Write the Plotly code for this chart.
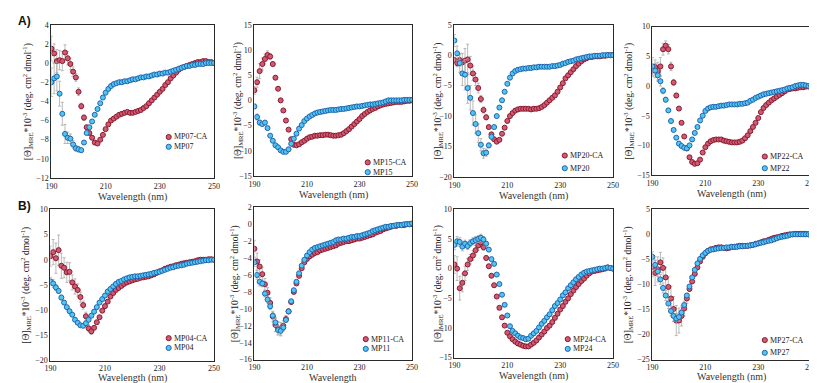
import plotly.graph_objects as go

W, H = 817, 383
wavelength = list(range(190, 251))
x_ticks = [190, 210, 230, 250]

# ---------------- data (MRE ellipticity x10^-3), 190..250 nm, 1 nm steps ----------------
mp07_ca = [1.5, 1.0, 0.2, 0.3, 0.2, 1.1, 0.5, -0.1, -0.9, -1.5, -3.0, -4.5, -5.7, -6.7, -7.3, -7.8, -8.3, -8.4, -8.0, -7.5,
           -6.9, -6.4, -6.0, -5.8, -5.6, -5.4, -5.3, -5.2, -5.1, -5.2, -5.2, -5.1, -5.0, -4.9, -4.7, -4.5, -4.2, -3.9, -3.6, -3.3,
           -3.0, -2.7, -2.3, -2.0, -1.6, -1.3, -1.0, -0.7, -0.5, -0.4, -0.3, -0.2, -0.1, 0.0, 0.1, 0.1, 0.2, 0.2, 0.1, 0.1, 0.0]
mp07 = [-2.0, -1.6, -1.4, -3.2, -5.3, -7.4, -7.8, -7.9, -8.5, -8.9, -9.0, -9.1, -8.3, -7.3, -6.7, -6.1, -5.4, -4.8, -4.2, -3.6,
        -3.1, -2.7, -2.4, -2.2, -2.1, -2.0, -2.0, -1.9, -1.9, -1.8, -1.7, -1.7, -1.6, -1.5, -1.5, -1.4, -1.4, -1.3, -1.2, -1.2,
        -1.1, -1.1, -1.0, -1.0, -0.9, -0.8, -0.7, -0.6, -0.5, -0.4, -0.3, -0.3, -0.2, -0.2, -0.1, -0.1, -0.1, 0.0, 0.0, 0.0, 0.0]
mp07_ca_err = [1.3, 1.0, 1.2, 1.0, 1.0, 0.8, 0.7, 0.6, 0.5, 0.4, 0.4, 0.3, 0.3, 0.2]
mp07_err = [1.5, 1.6, 1.5, 1.3, 1.2, 1.0, 0.6, 0.5, 0.4, 0.3, 0.3, 0.2]

mp15_ca = [2.0, 3.6, 5.8, 7.2, 8.2, 9.0, 8.7, 7.2, 4.5, 2.3, 0.0, -2.0, -4.0, -5.8, -7.7, -8.8, -8.9, -8.7, -8.3, -8.0,
           -7.6, -7.3, -7.2, -7.0, -7.0, -6.9, -6.9, -6.8, -6.8, -6.9, -7.0, -7.0, -6.9, -6.8, -6.5, -6.1, -5.7, -5.2, -4.7, -4.2,
           -3.7, -3.1, -2.7, -2.3, -2.0, -1.7, -1.5, -1.2, -1.0, -0.8, -0.7, -0.6, -0.5, -0.4, -0.3, -0.3, -0.3, -0.2, -0.1, -0.1, 0.0]
mp15 = [-1.2, -3.3, -4.4, -4.7, -4.4, -5.5, -7.0, -8.0, -8.9, -9.3, -9.9, -10.2, -10.2, -9.7, -8.6, -7.6, -6.6, -5.6, -4.9, -4.1,
        -3.6, -3.2, -2.9, -2.6, -2.4, -2.3, -2.2, -2.1, -2.0, -1.9, -1.9, -1.9, -1.8, -1.7, -1.7, -1.6, -1.5, -1.4, -1.3, -1.2,
        -1.2, -1.1, -1.0, -0.9, -0.8, -0.8, -0.7, -0.6, -0.5, -0.4, -0.2, 0.0, 0.0, 0.0, 0.0, 0.0, 0.0, 0.1, 0.1, 0.1, 0.1]
mp15_ca_err = [0.8, 1.0, 1.5, 1.2, 1.0, 0.8, 0.6, 0.5, 0.4, 0.3, 0.3, 0.2]
mp15_err = [0.5, 0.6, 0.5, 0.4, 0.4, 0.4, 0.3, 0.3, 0.3, 0.2]

mp20_ca = [-0.8, -1.3, -0.8, -1.2, -0.9, -0.7, -1.7, -3.0, -4.0, -5.4, -7.2, -9.0, -10.2, -11.8, -13.0, -13.8, -14.2, -13.9, -12.9, -11.9,
           -10.8, -10.0, -9.5, -9.1, -8.9, -8.8, -8.8, -8.8, -8.8, -8.9, -8.8, -8.8, -8.7, -8.5, -8.2, -7.8, -7.4, -7.0, -6.6, -6.0,
           -5.3, -4.6, -3.8, -3.3, -2.8, -2.3, -1.8, -1.4, -1.0, -0.7, -0.5, -0.3, -0.3, -0.2, -0.2, -0.2, -0.1, -0.1, 0.0, 0.0, 0.0]
mp20 = [2.4, 0.3, -1.3, -3.0, -3.2, -5.4, -7.0, -9.5, -11.3, -12.8, -14.7, -16.1, -16.0, -14.8, -13.4, -11.8, -10.0, -8.6, -7.4, -6.0,
        -4.7, -3.7, -3.0, -2.6, -2.4, -2.3, -2.2, -2.2, -2.1, -2.1, -2.0, -2.0, -1.9, -1.9, -1.9, -1.9, -1.9, -1.8, -1.8, -1.7,
        -1.6, -1.4, -1.3, -1.1, -1.0, -0.9, -0.7, -0.6, -0.5, -0.4, -0.3, -0.2, -0.2, -0.1, -0.1, -0.1, 0.0, 0.0, 0.0, 0.0, 0.0]
mp20_ca_err = [0.5, 0.6, 1.0, 1.5, 2.0, 2.5, 1.5, 1.2, 1.0, 0.8, 0.6, 0.5, 0.4, 0.3]
mp20_err = [1.0, 1.2, 1.5, 2.0, 2.5, 2.5, 2.0, 2.0, 1.5, 1.5, 1.0, 0.8, 0.6, 0.4, 0.3]

mp22_ca = [2.6, 3.2, 2.5, 3.3, 6.2, 6.8, 6.2, 3.3, 0.6, -1.6, -3.8, -6.2, -8.5, -10.5, -12.0, -12.8, -13.1, -13.0, -12.4, -11.2,
           -10.3, -9.7, -9.3, -9.1, -9.0, -9.0, -9.0, -9.2, -9.3, -9.4, -9.5, -9.5, -9.5, -9.4, -9.2, -8.8, -8.3, -7.6, -6.9, -6.2,
           -5.4, -4.4, -3.7, -3.2, -2.8, -2.4, -2.1, -1.8, -1.5, -1.2, -0.9, -0.6, -0.5, -0.4, -0.4, -0.3, -0.2, -0.2, -0.1, -0.1, 0.0]
mp22 = [3.3, 2.6, 1.8, 0.8, -0.8, -2.3, -4.1, -5.9, -7.4, -8.7, -9.7, -10.1, -10.4, -10.5, -10.0, -9.0, -7.9, -6.9, -5.8, -5.0,
        -4.2, -3.8, -3.6, -3.5, -3.5, -3.4, -3.3, -3.3, -3.2, -3.1, -3.1, -3.1, -3.1, -3.0, -3.0, -2.9, -2.8, -2.5, -2.3, -2.0,
        -1.8, -1.6, -1.4, -1.3, -1.2, -1.1, -1.0, -0.9, -0.8, -0.7, -0.6, -0.4, -0.3, -0.2, 0.0, 0.1, 0.2, 0.2, 0.1, 0.0, 0.0]
mp22_ca_err = [1.0, 1.2, 1.5, 1.5, 1.0, 0.8, 0.8, 0.7, 0.5, 0.4, 0.3, 0.3, 0.2]
mp22_err = [1.5, 1.2, 1.0, 0.8, 0.5, 0.4, 0.3, 0.3, 0.2]

mp04_ca = [0.7, 1.5, 0.3, 1.9, -1.2, -1.6, -2.5, -2.4, -4.5, -5.3, -6.0, -7.4, -9.0, -11.2, -13.6, -14.2, -13.5, -12.4, -11.4, -10.1,
           -9.2, -8.3, -7.3, -6.6, -6.0, -5.6, -5.2, -4.8, -4.5, -4.3, -4.1, -3.9, -3.8, -3.6, -3.5, -3.4, -3.3, -3.1, -2.9, -2.6,
           -2.3, -2.1, -1.8, -1.6, -1.4, -1.3, -1.1, -1.0, -0.8, -0.7, -0.6, -0.5, -0.4, -0.3, -0.1, 0.0, 0.0, 0.0, 0.1, 0.1, 0.0]
mp04 = [-4.3, -4.7, -5.5, -6.2, -7.5, -8.5, -9.4, -10.2, -10.9, -11.9, -12.5, -13.0, -13.1, -12.6, -11.9, -11.1, -10.3, -9.4, -8.5, -7.8,
        -7.1, -6.3, -5.8, -5.3, -4.8, -4.4, -4.2, -3.9, -3.7, -3.5, -3.4, -3.3, -3.3, -3.2, -3.1, -3.0, -2.9, -2.8, -2.6, -2.5,
        -2.4, -2.2, -2.0, -1.8, -1.6, -1.5, -1.3, -1.2, -1.1, -1.0, -0.8, -0.7, -0.6, -0.5, -0.4, -0.3, -0.2, -0.1, -0.1, 0.0, 0.0]
mp04_ca_err = [2.0, 2.5, 3.0, 3.0, 2.5, 2.0, 2.0, 1.8, 1.5, 1.5, 1.2, 1.0, 0.8, 0.8, 0.7, 0.6]
mp04_err = [0.8, 0.8, 0.6, 0.5, 0.5, 0.4, 0.3, 0.3, 0.3, 0.2]

mp11_ca = [-2.9, -4.4, -5.0, -5.9, -7.1, -8.1, -9.3, -10.9, -11.9, -12.3, -12.4, -12.0, -11.2, -10.3, -9.2, -8.0, -7.0, -6.1, -5.2, -4.5,
           -4.1, -3.8, -3.6, -3.4, -3.3, -3.1, -3.0, -2.9, -2.8, -2.7, -2.6, -2.5, -2.3, -2.2, -2.1, -2.0, -2.0, -1.9, -1.8, -1.7,
           -1.7, -1.6, -1.5, -1.4, -1.3, -1.2, -1.0, -0.9, -0.8, -0.6, -0.5, -0.4, -0.3, -0.2, -0.2, -0.1, -0.1, -0.1, 0.0, 0.0, 0.0]
mp11 = [-4.5, -6.0, -6.8, -7.0, -8.2, -8.9, -9.7, -10.8, -11.6, -12.5, -12.6, -12.2, -11.3, -10.3, -9.1, -7.8, -6.8, -5.8, -4.9, -4.2,
        -3.7, -3.3, -3.0, -2.8, -2.7, -2.6, -2.5, -2.4, -2.3, -2.2, -2.1, -1.9, -1.8, -1.8, -1.7, -1.7, -1.6, -1.5, -1.5, -1.4,
        -1.4, -1.3, -1.2, -1.1, -1.0, -0.8, -0.7, -0.6, -0.5, -0.4, -0.3, -0.3, -0.2, -0.2, -0.1, -0.1, -0.1, 0.0, 0.0, 0.0, 0.1]
mp11_ca_err = [1.0, 1.0, 0.8, 0.8, 0.7, 0.6, 0.6, 0.6, 0.8, 0.8, 0.8, 0.6, 0.4, 0.3]
mp11_err = [0.5, 0.5, 0.5, 0.4, 0.4, 0.4, 0.4, 0.4, 0.5, 0.5, 0.5, 0.4, 0.3, 0.2]

mp24_ca = [0.7, 0.0, -3.3, -2.4, -0.8, 0.7, 1.6, 2.2, 3.1, 3.9, 4.4, 3.6, 1.8, 0.4, -1.2, -2.8, -4.7, -6.6, -8.2, -9.6,
           -10.8, -11.4, -11.9, -12.3, -12.6, -12.8, -13.0, -13.1, -13.1, -12.8, -12.5, -12.1, -11.6, -11.1, -10.6, -10.0, -9.6, -9.0, -8.3, -7.6,
           -6.9, -6.3, -5.6, -5.0, -4.3, -3.7, -3.1, -2.6, -2.1, -1.7, -1.2, -0.8, -0.5, -0.4, -0.3, -0.2, -0.1, 0.0, 0.2, 0.1, 0.0]
mp24 = [4.0, 4.6, 4.5, 3.7, 4.2, 3.8, 4.3, 4.6, 4.8, 5.0, 5.2, 4.9, 4.2, 3.2, 1.6, 0.8, -1.0, -2.6, -4.4, -6.1,
        -7.9, -9.7, -10.5, -10.9, -11.3, -11.6, -11.7, -11.9, -11.8, -11.3, -10.9, -10.5, -9.9, -9.3, -8.8, -8.2, -7.7, -7.0, -6.3, -5.8,
        -5.2, -4.5, -4.0, -3.3, -2.8, -2.3, -1.8, -1.4, -1.0, -0.7, -0.5, -0.4, -0.3, -0.2, -0.1, 0.0, 0.0, 0.1, 0.2, 0.1, 0.0]
mp24_ca_err = [1.5, 2.0, 2.0, 1.5, 1.2, 1.0, 0.8, 0.8, 0.8, 0.8, 0.8, 0.5, 0.4, 0.3]
mp24_err = [0.8, 0.8, 0.7, 0.7, 0.6, 0.6, 0.6, 0.6, 0.6, 0.6, 0.6, 0.5, 0.4, 0.3]

mp27_ca = [-6.5, -7.7, -7.0, -5.6, -6.7, -8.6, -10.5, -12.8, -14.9, -17.2, -17.2, -16.3, -14.8, -12.8, -10.9, -9.4, -7.9, -6.6, -5.4, -4.5,
           -3.8, -3.3, -3.0, -2.9, -2.7, -2.6, -2.6, -2.7, -2.8, -2.7, -2.5, -2.5, -2.4, -2.3, -2.3, -2.3, -2.3, -2.2, -2.1, -1.9,
           -1.8, -1.6, -1.4, -1.3, -1.1, -0.9, -0.7, -0.6, -0.5, -0.3, -0.2, -0.1, 0.0, 0.0, 0.1, 0.1, 0.1, 0.1, 0.1, 0.0, 0.0]
mp27 = [-4.5, -6.1, -7.4, -9.0, -10.7, -12.2, -13.8, -15.3, -16.3, -16.8, -16.5, -15.6, -14.1, -12.2, -10.4, -8.6, -7.1, -5.8, -4.9, -4.2,
        -3.7, -3.3, -3.1, -3.0, -2.9, -2.8, -2.7, -2.7, -2.6, -2.6, -2.5, -2.5, -2.5, -2.4, -2.4, -2.3, -2.3, -2.2, -2.1, -2.0,
        -1.8, -1.7, -1.6, -1.4, -1.3, -1.2, -1.0, -0.8, -0.6, -0.5, -0.4, -0.3, -0.1, 0.0, 0.0, 0.0, 0.0, 0.0, 0.0, 0.0, 0.0]
mp27_ca_err = [2.0, 2.5, 2.5, 2.0, 2.0, 2.0, 2.0, 2.5, 2.5, 3.0, 2.5, 2.0, 1.5, 1.0, 0.5]
mp27_err = [1.0, 1.0, 1.0, 1.0, 1.0, 1.0, 1.0, 1.0, 1.0, 1.0, 0.8, 0.6, 0.5, 0.4]

# ---------------- styling ----------------
RED_FILL, RED_EDGE = "#d05a74", "#8a1b2e"
BLUE_FILL, BLUE_EDGE = "#52c6f2", "#2364ad"
ERR_COLOR = "#a8a8a8"
SERIF = "Liberation Serif, Times New Roman, serif"
YTITLE = "[Θ]<sub>MRE</sub>*10<sup>-3</sup> (deg. cm<sup>2</sup> dmol<sup>-1</sup>)"

# box = (left, top, right, bottom) in px; ytx = y-title x px; leg = (marker x, row1 y, row2 y); xty = x-title y px
panels = [
    dict(ca=mp07_ca, cae=mp07_ca_err, wt=mp07, wte=mp07_err, name="MP07", yr=(-12, 4), dt=2,
         box=(38, 13, 203, 170), ytx=14, leg=(157, 128, 138), xt="Wavelength (nm)", xty=189),
    dict(ca=mp15_ca, cae=mp15_ca_err, wt=mp15, wte=mp15_err, name="MP15", yr=(-15, 15), dt=5,
         box=(244, 13, 404, 168), ytx=227, leg=(359, 154, 164), xt="Wavelength (nm)", xty=187),
    dict(ca=mp20_ca, cae=mp20_ca_err, wt=mp20, wte=mp20_err, name="MP20", yr=(-20, 5), dt=5,
         box=(447, 13, 608, 169), ytx=430, leg=(559, 147, 160), xt="Wavelength (nm)", xty=188),
    dict(ca=mp22_ca, cae=mp22_ca_err, wt=mp22, wte=mp22_err, name="MP22", yr=(-15, 10), dt=5,
         box=(648, 15, 809, 167), ytx=624, leg=(762, 148, 160), xt="Wavelength (nm)", xty=186),
    dict(ca=mp04_ca, cae=mp04_ca_err, wt=mp04, wte=mp04_err, name="MP04", yr=(-20, 10), dt=5,
         box=(37, 202, 203, 357), ytx=12, leg=(157, 334, 344), xt="Wavelength (nm)", xty=375),
    dict(ca=mp11_ca, cae=mp11_ca_err, wt=mp11, wte=mp11_err, name="MP11", yr=(-16, 2), dt=2,
         box=(244, 200, 404, 356), ytx=224, leg=(357, 335, 345), xt="Wavelength", xty=374),
    dict(ca=mp24_ca, cae=mp24_ca_err, wt=mp24, wte=mp24_err, name="MP24", yr=(-15, 10), dt=5,
         box=(447, 202, 608, 354), ytx=430, leg=(562, 335, 345), xt="Wavelength (nm)", xty=373),
    dict(ca=mp27_ca, cae=mp27_ca_err, wt=mp27, wte=mp27_err, name="MP27", yr=(-25, 5), dt=5,
         box=(648, 202, 809, 356), ytx=623, leg=(762, 336, 349), xt="Wavelength (nm)", xty=374),
]


def pad(err):
    return list(err) + [0.0] * (len(wavelength) - len(err))


def px(x):
    return x / W


def py(y):
    return 1 - y / H


fig = go.Figure()
layout = dict(width=W, height=H, margin=dict(l=0, r=0, t=0, b=0), autosize=False,
              paper_bgcolor="white", plot_bgcolor="white", showlegend=False)
annotations, shapes = [], []

for i, p in enumerate(panels, start=1):
    xa, ya = ("x", "y") if i == 1 else (f"x{i}", f"y{i}")
    for vals, err, fill, edge in [(p["ca"], p["cae"], RED_FILL, RED_EDGE),
                                  (p["wt"], p["wte"], BLUE_FILL, BLUE_EDGE)]:
        fig.add_trace(go.Scatter(
            x=wavelength, y=vals, mode="markers", xaxis=xa, yaxis=ya,
            marker=dict(size=5, color=fill, line=dict(color=edge, width=1)),
            error_y=dict(type="data", array=pad(err), color=ERR_COLOR, thickness=0.8, width=1.5),
            showlegend=False, hoverinfo="skip"))
    l, t, r, b = p["box"]
    axis_common = dict(showline=True, mirror=True, linecolor="#2a2a2a", linewidth=1,
                       showgrid=False, zeroline=False, ticks="",
                       tickfont=dict(family=SERIF, size=8, color="#222"))
    layout["xaxis" if i == 1 else f"xaxis{i}"] = dict(
        domain=[px(l), px(r)], range=[190, 250], tickvals=x_ticks, anchor=ya, **axis_common)
    layout["yaxis" if i == 1 else f"yaxis{i}"] = dict(
        domain=[py(b), py(t)], range=list(p["yr"]), dtick=p["dt"], tick0=0, anchor=xa, **axis_common)
    # axis titles
    annotations.append(dict(text=YTITLE, x=px(p["ytx"]), y=py((t + b) / 2), xref="paper", yref="paper",
                            textangle=-90, showarrow=False, xanchor="center", yanchor="middle",
                            font=dict(family=SERIF, size=9.5, color="#222")))
    annotations.append(dict(text=p["xt"], x=px((l + r) / 2), y=py(p["xty"]), xref="paper", yref="paper",
                            showarrow=False, xanchor="center", yanchor="middle",
                            font=dict(family=SERIF, size=10, color="#333")))
    # legend
    mx, r1, r2 = p["leg"]
    for ry, fill, edge, label in [(r1, RED_FILL, RED_EDGE, p["name"] + "-CA"),
                                  (r2, BLUE_FILL, BLUE_EDGE, p["name"])]:
        rad = 2.6
        shapes.append(dict(type="circle", xref="paper", yref="paper",
                           x0=px(mx - rad), x1=px(mx + rad), y0=py(ry + rad), y1=py(ry - rad),
                           fillcolor=fill, line=dict(color=edge, width=1)))
        annotations.append(dict(text=label, x=px(mx + 3.5), y=py(ry), xref="paper", yref="paper",
                                showarrow=False, xanchor="left", yanchor="middle",
                                font=dict(family=SERIF, size=8, color="#222")))

annotations.append(dict(text="<b>A)</b>", x=px(2), y=py(9), xref="paper", yref="paper", showarrow=False,
                        xanchor="left", yanchor="middle", font=dict(family="Liberation Sans", size=12, color="#111")))
annotations.append(dict(text="<b>B)</b>", x=px(2), y=py(199), xref="paper", yref="paper", showarrow=False,
                        xanchor="left", yanchor="middle", font=dict(family="Liberation Sans", size=12, color="#111")))

layout["annotations"] = annotations
layout["shapes"] = shapes
fig.update_layout(**layout)
fig.write_html("out.html")
